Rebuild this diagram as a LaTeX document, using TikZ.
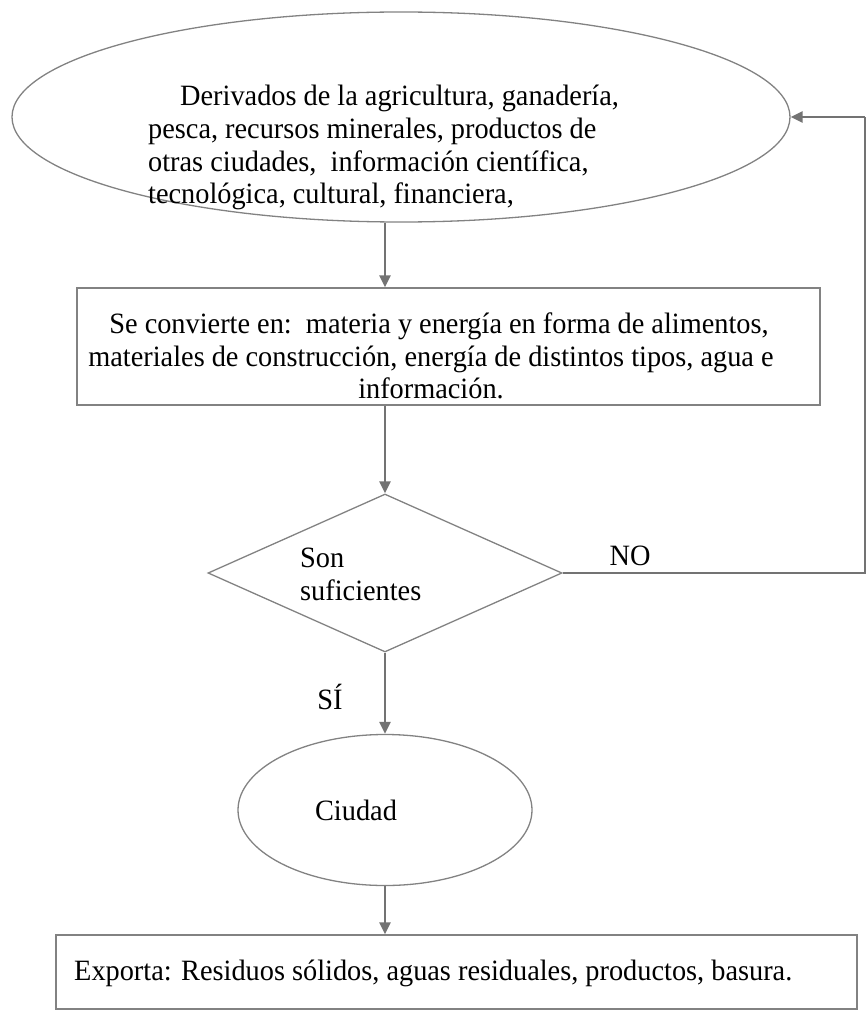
\documentclass[tikz,border=0pt]{standalone}
\usepackage{fontspec}
\setmainfont[FakeStretch=0.96]{Liberation Serif}
\usetikzlibrary{shapes.geometric,arrows.meta}

\definecolor{outline}{RGB}{130,130,130}
\definecolor{flow}{RGB}{115,115,115}

\begin{document}
\begin{tikzpicture}[x=1pt,y=-1pt,
  shapeline/.style={draw=outline,line width=1.3pt,inner sep=0pt},
  oval/.style={shapeline,ellipse},
  boxnode/.style={shapeline,rectangle},
  decision/.style={shapeline,diamond},
  txt/.style={inner sep=0pt,font=\fontsize{29.5}{32.7}\selectfont},
  arr/.style={draw=flow,line width=2.5pt,-{Triangle[length=12pt,width=11pt]}},
  link/.style={draw=flow,line width=2.5pt}]
\useasboundingbox (0,0) rectangle (867,1011);

% shapes
\node[oval,minimum width=778pt,minimum height=210pt] (src) at (401,117) {};
\node[boxnode,minimum width=743pt,minimum height=117pt] (conv) at (448.5,346.5) {};
\node[decision,minimum width=354pt,minimum height=158pt] (dia) at (385,573) {};
\node[oval,minimum width=294pt,minimum height=151pt] (city) at (385,810) {};
\node[boxnode,minimum width=801pt,minimum height=74pt] (exp) at (456.5,972) {};

% texts
\node[txt,align=left,anchor=north west] (srctext) at (148,85)
  {\hspace*{32pt}Derivados de la agricultura, ganadería,\\
   pesca, recursos minerales, productos de\\
   otras ciudades,\ \ información científica,\\
   tecnológica, cultural, financiera,};
\node[txt,align=center] (convtext) at (431,356)
  {\hspace*{16pt}Se convierte en:\ \ materia y energía en forma de alimentos,\\
   materiales de construcción, energía de distintos tipos, agua e\hspace*{17pt}\\
   información.};
\node[txt,align=left,anchor=north west] (diatext) at (300,548)
  {Son\\suficientes};
\node[txt] (citytext) at (356,810) {Ciudad};
\node[txt,anchor=west] (exptext) at (74,973)
  {Exporta: Residuos sólidos, aguas residuales, productos, basura.};
\node[txt] (no) at (630,556) {NO};
\node[txt] (si) at (330,697) {SÍ};

% connectors
\coordinate (turnlow) at (865,573);
\coordinate (turnhigh) at (865,117);
\draw[arr] (src.south -| dia.north) -- (conv.north -| dia.north);
\draw[arr] (conv.south -| dia.north) -- (dia.north);
\draw[arr] (dia.south) -- (city.north);
\draw[arr] (city.south) -- (exp.north -| city.south);
\draw[link] (dia.east) -- (turnlow) -- (turnhigh);
\draw[arr] (turnhigh) -- (src.east);
\end{tikzpicture}
\end{document}
